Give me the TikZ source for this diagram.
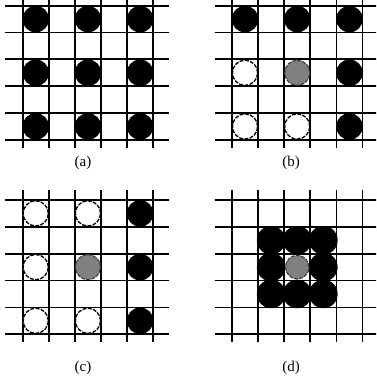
\documentclass[tikz,border=0pt]{standalone}
\usepackage{fontspec}
\setmainfont{Liberation Serif}

\tikzset{
  grd/.style={line width=1.8pt},
  blk/.style={fill=black},
  wht/.style={fill=white, draw=black, line width=1.3pt, dash pattern=on 4pt off 1.3pt},
  gry/.style={fill=black!50, draw=black!80, line width=1pt, dash pattern=on 4pt off 1.2pt},
  lbl/.style={font=\fontsize{15}{17}\selectfont},
}

% grid of 5x5 cells, origin = top-left crossing
\newcommand{\gridpanel}[2]{%
  \foreach \k in {0,...,5}{
    \draw[grd] (#1+\k*26.1, #2-10) -- (#1+\k*26.1, #2+5*26.85+8);
    \draw[grd] (#1-17.5, #2+\k*26.85) -- (#1+5*26.1+16, #2+\k*26.85);
  }}
% one stone in cell (col,row)
\newcommand{\stone}[6]{%
  \path[#5] (#1+#3*26.1+13.05, #2+#4*26.85+13.4) circle[radius=#6pt];}

\begin{document}
\begin{tikzpicture}[x=1pt, y=-1pt]
  \useasboundingbox (0,0) rectangle (376,379);
  \clip (0,0) rectangle (376,379);

  % (a)
  \gridpanel{22.7}{5.7}
  \foreach \i in {0,2,4}
    \foreach \j in {0,2,4}
      \stone{22.7}{5.7}{\i}{\j}{blk}{13.3};
  \node[lbl] (la) at (83,163) {(a)};

  % (b)
  \gridpanel{232}{5.7}
  \foreach \i/\j in {0/0,2/0,4/0,4/2,4/4}
    \stone{232}{5.7}{\i}{\j}{blk}{13.3};
  \foreach \i/\j in {0/2,0/4,2/4}
    \stone{232}{5.7}{\i}{\j}{wht}{12.6};
  \stone{232}{5.7}{2}{2}{gry}{12.6};
  \node[lbl] (lb) at (291,163) {(b)};

  % (c)
  \gridpanel{22.7}{200}
  \foreach \i/\j in {4/0,4/2,4/4}
    \stone{22.7}{200}{\i}{\j}{blk}{13.3};
  \foreach \i/\j in {0/0,2/0,0/2,0/4,2/4}
    \stone{22.7}{200}{\i}{\j}{wht}{12.6};
  \stone{22.7}{200}{2}{2}{gry}{12.6};
  \node[lbl] (lc) at (83,368) {(c)};

  % (d)
  \gridpanel{232}{200}
  \foreach \i/\j in {1/1,2/1,3/1,1/2,3/2,1/3,2/3,3/3}
    \stone{232}{200}{\i}{\j}{blk}{14.3};
  \stone{232}{200}{2}{2}{gry}{11.8};
  \node[lbl] (ld) at (291,368) {(d)};
\end{tikzpicture}
\end{document}
